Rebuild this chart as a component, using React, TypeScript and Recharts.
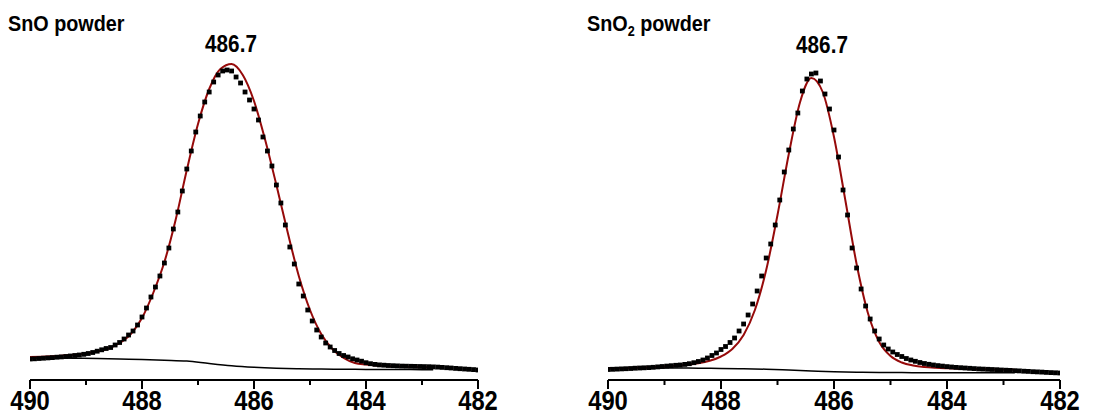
import React from 'react';
import { ComposedChart, Line, Scatter, XAxis, YAxis } from 'recharts';

// binding energy grid (eV), high -> low
const E_START = 490;
const MEAS_STEP = 0.08;
const FIT_STEP = 0.2;
const BG_STEP = 0.4;

const energyTicks = [490, 489, 488, 487, 486, 485, 484, 483, 482];

// SnO powder
const snoMeasured = [
  21, 21.2, 21.5, 21.8, 22.1, 22.4, 22.8, 23.1, 23.5, 24,
  24.5, 25, 25.7, 26.5, 27.5, 28.8, 30.2, 31.5, 32.5, 35,
  37.5, 41, 45, 49, 55, 63, 72, 83, 93, 104,
  117, 132, 151, 168, 189, 211, 229, 248, 264, 278,
  288, 298, 305, 309, 310, 309, 303, 297, 288, 280,
  271, 260, 243, 229, 214, 195, 177, 155, 133, 116,
  96, 84, 70, 59, 50, 43, 37, 33, 29.5, 26.5,
  24.5, 23, 21.2, 20, 18.8, 17.3, 16.3, 15.6, 15.1, 14.8,
  14.5, 14.3, 14.1, 13.9, 13.8, 13.7, 13.6, 13.5, 13.4, 13.3,
  13.1, 12.9, 12.6, 12.3, 12, 11.6, 11.3, 11, 10.7, 10.4, 10,
];
const snoFit = [
  23, 23.3, 23.8, 24.5, 25.3, 26.5, 28.5, 31.5, 37, 46,
  62, 87, 118, 160, 210, 256, 291, 311, 316, 305,
  279, 240, 195, 148, 104, 70, 46, 31, 22, 17,
  15.5, 14.5, 13.8, 13.3, 13, 12.8, 12.6,
];
const snoBackground = [
  22, 22, 21.8, 21.5, 21, 20.5, 19.8, 19, 16.5, 14.3,
  12.8, 11.8, 11.2, 10.9, 10.7, 10.6, 10.5, 10.4, 10.3,
];

// SnO2 powder
const sno2Measured = [
  10.5, 10.7, 10.9, 11.1, 11.3, 11.5, 11.8, 12, 12.2, 12.4,
  12.7, 13.1, 13.5, 13.9, 14.3, 14.7, 15, 15.6, 16.3, 17.3,
  18.5, 20, 22, 24.5, 27, 30.5, 33.5, 37.5, 42, 49,
  56, 65, 76, 89, 104, 122, 136, 155, 180, 208,
  230, 251, 267, 289, 301, 306, 307, 299, 286, 271,
  250, 223, 190, 165, 132, 112, 91, 74, 61, 49,
  41, 35, 31, 28, 25.5, 23.5, 21.5, 20, 18.7, 17.5,
  16.5, 15.7, 15, 14.4, 13.9, 13.4, 13, 12.6, 12.3, 12,
  11.7, 11.4, 11.1, 10.9, 10.7, 10.5, 10.3, 10, 9.8, 9.6,
  9.3, 9.1, 8.8, 8.6, 8.3, 8.1, 7.9, 7.6, 7.4, 7.2, 7,
];
const sno2Fit = [
  11.5, 11.8, 12.1, 12.5, 13, 13.5, 14.2, 15.2, 16.7, 19.2,
  23.5, 31, 45, 70, 110, 165, 226, 278, 302, 288,
  243, 180, 116, 67, 38, 24, 17.5, 14.5, 13, 12.2,
  11.7, 11.3, 11, 10.8, 10.6, 10.4, 10.2,
];
const sno2Background = [
  12.3, 12.2, 12.1, 12, 11.8, 11.6, 11.3, 10.8, 10, 9.1,
  8.3, 7.8, 7.5, 7.4, 7.3, 7.3, 7.2, 7.2, 7.2,
];

const FONT = '"Liberation Sans", Arial, Helvetica, sans-serif';
const FIT_RED = '#960a0a';

const toPoints = (vals: number[], step: number) =>
  vals.map((v, i) => ({ e: +(E_START - i * step).toFixed(2), v }));

// condensed bold label, like the narrow Arial used in the original plot
const NarrowText = ({ x, y, size, squeeze, anchor = 'start', children }: any) => (
  <text
    transform={`translate(${x},${y}) scale(${squeeze},1)`}
    textAnchor={anchor}
    fontFamily={FONT}
    fontWeight="bold"
    fontSize={size}
    fill="#000"
  >
    {children}
  </text>
);

const EnergyTick = (props: any) => {
  const { x, y, payload } = props;
  const major = payload.value % 2 === 0;
  return (
    <g>
      <line x1={x} y1={y} x2={x} y2={y + (major ? 9 : 5)} stroke="#000" strokeWidth={2} />
      {major && (
        <NarrowText x={x} y={y + 30} size={27} squeeze={0.88} anchor="middle">
          {payload.value}
        </NarrowText>
      )}
    </g>
  );
};

const Square = (props: any) => {
  const { cx, cy } = props;
  if (cx == null || cy == null) return null;
  return <rect x={cx - 2.4} y={cy - 2.4} width={4.8} height={4.8} fill="#000" />;
};

interface PanelProps {
  width: number;
  left: number;
  right: number;
  measured: number[];
  fit: number[];
  background: number[];
}

const XpsPanel = ({ width, left, right, measured, fit, background }: PanelProps) => (
  <ComposedChart width={width} height={415} margin={{ top: 50, right, bottom: 0, left }}>
    <XAxis
      dataKey="e"
      type="number"
      domain={[482, 490]}
      reversed
      ticks={energyTicks}
      interval={0}
      tickSize={0}
      tickMargin={0}
      tickLine={false}
      axisLine={{ stroke: '#000', strokeWidth: 2 }}
      tick={<EnergyTick />}
      height={35}
      allowDataOverflow
    />
    <YAxis hide type="number" domain={[0, 330]} allowDataOverflow />
    <Scatter data={toPoints(measured, MEAS_STEP)} dataKey="v" shape={<Square />} isAnimationActive={false} />
    <Line
      data={toPoints(background, BG_STEP)}
      dataKey="v"
      type="monotone"
      dot={false}
      stroke="#000"
      strokeWidth={1.5}
      isAnimationActive={false}
    />
    <Line
      data={toPoints(fit, FIT_STEP)}
      dataKey="v"
      type="monotone"
      dot={false}
      stroke={FIT_RED}
      strokeWidth={2}
      isAnimationActive={false}
    />
  </ComposedChart>
);

export default function App() {
  return (
    <div style={{ position: 'absolute', left: 0, top: 0, width: 1116, height: 415, background: '#fff' }}>
      <div style={{ position: 'absolute', left: 0, top: 0 }}>
        <XpsPanel width={520} left={30} right={42} measured={snoMeasured} fit={snoFit} background={snoBackground} />
      </div>
      <div style={{ position: 'absolute', left: 560, top: 0 }}>
        <XpsPanel width={556} left={48} right={56} measured={sno2Measured} fit={sno2Fit} background={sno2Background} />
      </div>
      <svg width={1116} height={415} style={{ position: 'absolute', left: 0, top: 0, pointerEvents: 'none' }}>
        <NarrowText x={8} y={31} size={22} squeeze={0.9}>SnO powder</NarrowText>
        <NarrowText x={231} y={52} size={23} squeeze={0.9} anchor="middle">486.7</NarrowText>
        <NarrowText x={587} y={31} size={22} squeeze={0.9}>
          SnO<tspan fontSize={14} dy={5}>2</tspan>
          <tspan dy={-5}> powder</tspan>
        </NarrowText>
        <NarrowText x={822} y={53} size={23} squeeze={0.9} anchor="middle">486.7</NarrowText>
      </svg>
    </div>
  );
}
